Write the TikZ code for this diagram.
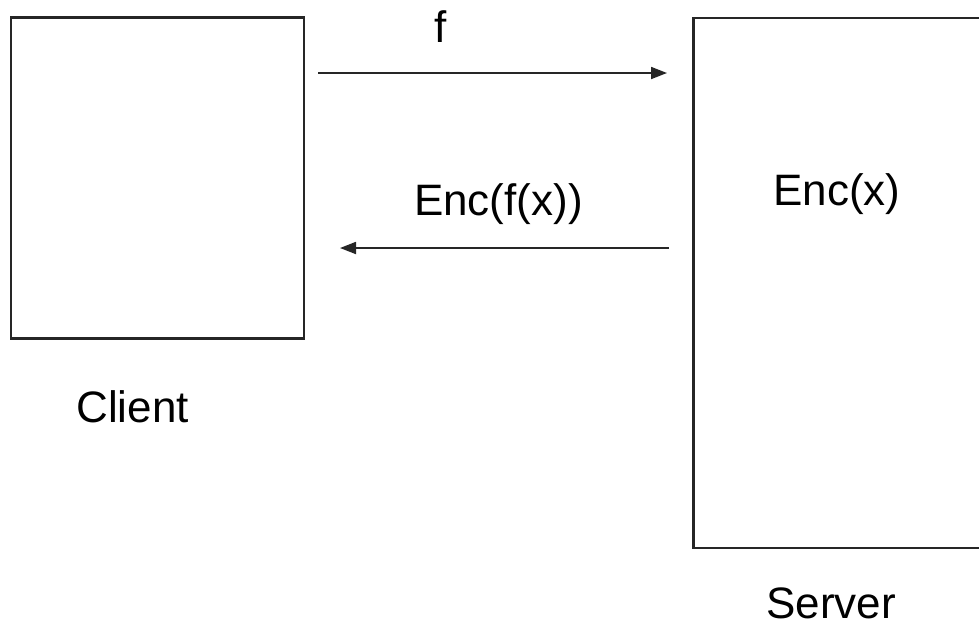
\documentclass[tikz,border=0pt]{standalone}
\usepackage{fontspec}
\setmainfont{Liberation Sans}
\usetikzlibrary{arrows.meta}
\begin{document}
\begin{tikzpicture}[x=1pt,y=-1pt,
  boxst/.style={draw=black!85,line width=2.2pt,inner sep=0pt,outer sep=0pt},
  lbl/.style={inner sep=0pt,anchor=base,font=\fontsize{44}{48}\selectfont},
  conn/.style={draw=black!85,line width=1.8pt,-{Triangle[length=16pt,width=12pt]}}]
\useasboundingbox (0,0) rectangle (979,630);
\clip (0,0) rectangle (979,630);
\node[boxst,minimum width=293pt,minimum height=321pt,anchor=north west] (client) at (11,17.5) {};
\node[boxst,minimum width=320pt,minimum height=530pt,anchor=north west] (server) at (693.5,18) {};
\coordinate (a1s) at (318,73);
\coordinate (a1e) at (667,73);
\coordinate (a2s) at (669,248);
\coordinate (a2e) at (340,248);
\draw[conn] (a1s) -- (a1e);
\draw[conn] (a2s) -- (a2e);
\node[lbl] (f) at (441,42) {f};
\node[lbl] (encfx) at (498.5,215) {Enc(f(x))};
\node[lbl] (encx) at (837,205) {Enc(x)};
\node[lbl] (clientlbl) at (132.5,422) {Client};
\node[lbl] (serverlbl) at (831,618) {Server};
\end{tikzpicture}
\end{document}
